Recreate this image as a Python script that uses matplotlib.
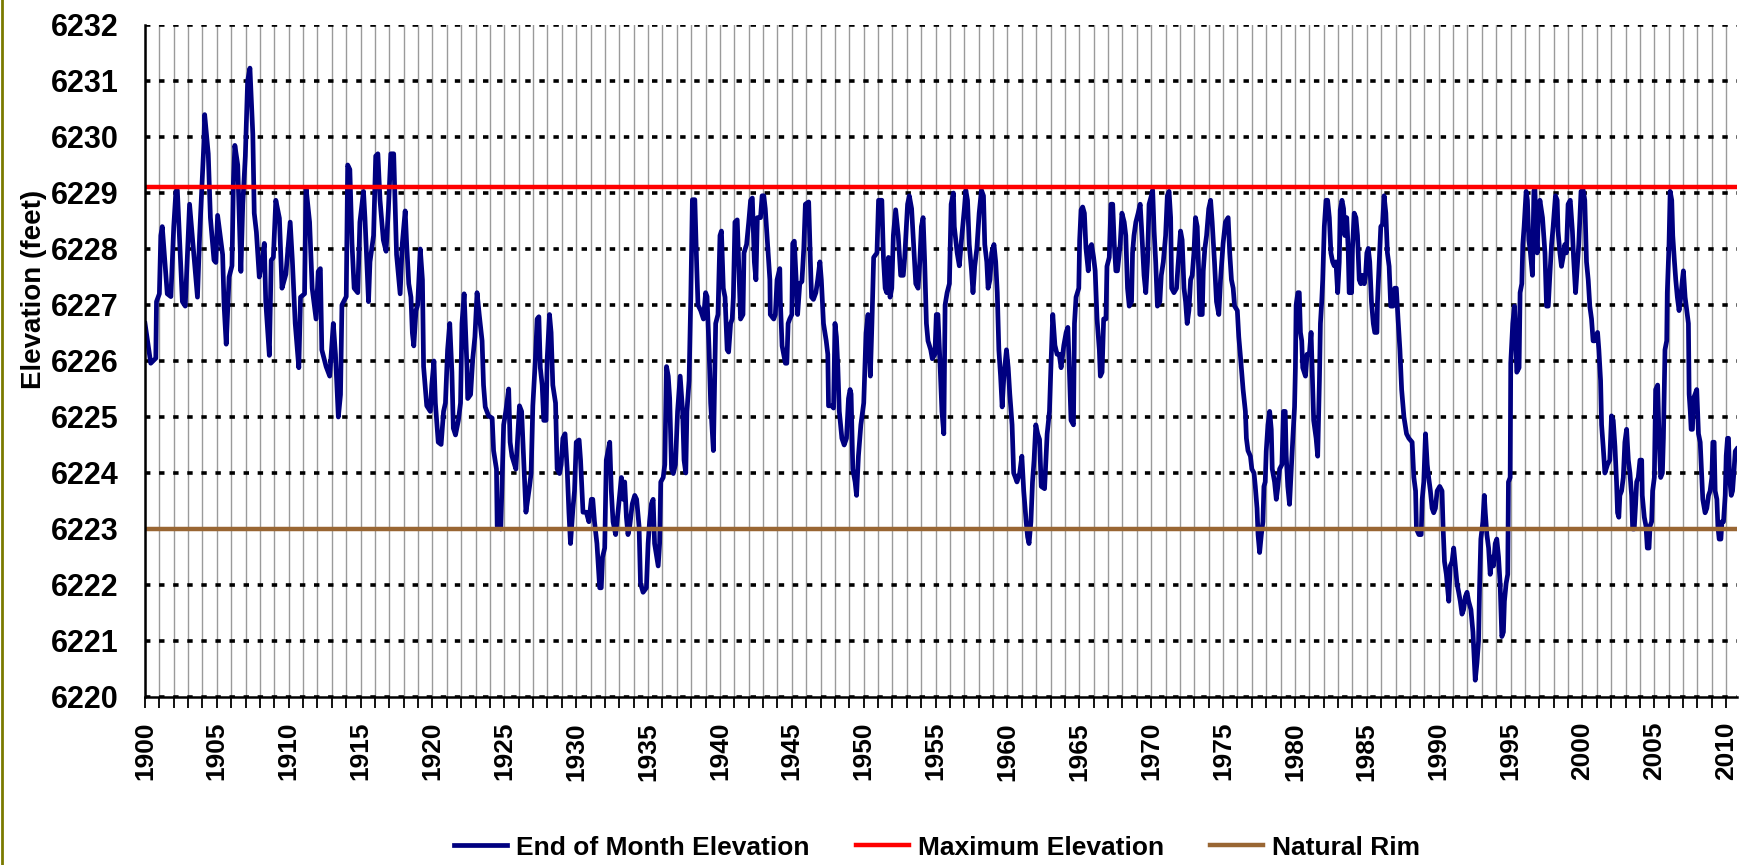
import matplotlib
matplotlib.use("Agg")
import matplotlib.pyplot as plt
import matplotlib.lines as lines
from matplotlib.ticker import MultipleLocator
import numpy as np

plt.rcParams['font.family'] = ['Liberation Sans', 'DejaVu Sans']
plt.rcParams['font.weight'] = 'bold'

# end of month lake elevation (decimal year, feet)
seg_1900 = [
    (1900.00, 6226.67), (1900.40, 6225.96), (1900.75, 6226.05), (1900.80, 6227.06), (1901.00, 6227.20),
    (1901.10, 6228.24), (1901.20, 6228.40), (1901.55, 6227.20), (1901.80, 6227.15), (1902.00, 6228.40),
    (1902.15, 6229.03), (1902.25, 6229.05), (1902.60, 6227.06), (1902.80, 6226.98), (1902.95, 6227.90),
    (1903.10, 6228.80), (1903.40, 6227.90), (1903.65, 6227.14), (1903.80, 6228.24), (1904.10, 6229.90),
    (1904.15, 6230.40), (1904.40, 6229.70), (1904.55, 6228.56), (1904.80, 6227.80), (1904.93, 6227.76),
    (1905.05, 6228.60), (1905.40, 6227.90), (1905.50, 6227.00), (1905.65, 6226.30), (1905.85, 6227.50),
    (1906.05, 6227.70), (1906.15, 6229.20), (1906.25, 6229.85), (1906.45, 6229.50), (1906.67, 6227.60),
    (1906.80, 6228.80), (1906.98, 6229.66), (1907.14, 6231.00), (1907.30, 6231.23), (1907.50, 6230.05),
    (1907.60, 6228.64), (1907.75, 6228.30), (1907.95, 6227.50), (1908.15, 6227.80), (1908.30, 6228.10),
    (1908.40, 6227.06), (1908.65, 6226.10), (1908.78, 6227.80), (1908.93, 6227.85), (1909.10, 6228.87),
    (1909.35, 6228.55), (1909.53, 6227.30), (1909.80, 6227.55), (1910.10, 6228.48), (1910.25, 6227.80),
    (1910.45, 6226.67), (1910.70, 6225.88), (1910.82, 6227.14), (1911.10, 6227.20), (1911.20, 6229.10),
    (1911.45, 6228.48), (1911.63, 6227.30), (1911.90, 6226.75),
]
seg_1912 = [
    (1912.05, 6227.60), (1912.20, 6227.65), (1912.30, 6226.20), (1912.60, 6225.90), (1912.85, 6225.73),
    (1913.10, 6226.67), (1913.25, 6226.12), (1913.45, 6225.00), (1913.60, 6225.40), (1913.70, 6227.00),
    (1914.00, 6227.15), (1914.10, 6229.50), (1914.25, 6229.42), (1914.40, 6228.10), (1914.55, 6227.30),
    (1914.80, 6227.22), (1914.95, 6228.48), (1915.20, 6229.03), (1915.30, 6228.56), (1915.55, 6227.06),
    (1915.65, 6227.77), (1915.90, 6228.24), (1916.05, 6229.66), (1916.20, 6229.70), (1916.35, 6228.87),
    (1916.58, 6228.16), (1916.77, 6227.96), (1916.93, 6228.70), (1917.10, 6229.70), (1917.30, 6229.70),
    (1917.40, 6228.80), (1917.50, 6227.90), (1917.75, 6227.20), (1917.90, 6228.10), (1918.10, 6228.68),
    (1918.20, 6228.10), (1918.35, 6227.38), (1918.50, 6227.14), (1918.60, 6226.50), (1918.70, 6226.27),
    (1918.85, 6226.90), (1918.97, 6227.00), (1919.15, 6228.00), (1919.30, 6227.45), (1919.38, 6225.90),
    (1919.60, 6225.20), (1919.85, 6225.10), (1919.95, 6225.57), (1920.10, 6226.00), (1920.20, 6225.25),
    (1920.40, 6224.55), (1920.60, 6224.51), (1920.77, 6225.10), (1920.90, 6225.25), (1921.05, 6226.20),
    (1921.20, 6226.67), (1921.35, 6225.80), (1921.45, 6224.80), (1921.60, 6224.68), (1921.80, 6224.94),
    (1921.95, 6225.25), (1922.05, 6226.67), (1922.20, 6227.20), (1922.40, 6225.88), (1922.45, 6225.33),
    (1922.65, 6225.40), (1922.80, 6226.04), (1922.95, 6226.43), (1923.10, 6227.22), (1923.25, 6226.83),
    (1923.45, 6226.36), (1923.55, 6225.57), (1923.67, 6225.18), (1923.90, 6225.02), (1924.15, 6224.98),
    (1924.25, 6224.40), (1924.45, 6224.07), (1924.50, 6223.05), (1924.75, 6223.00), (1924.85, 6223.90),
    (1924.95, 6224.86),
]
seg_1925 = [
    (1925.10, 6225.10), (1925.30, 6225.50), (1925.40, 6224.55), (1925.53, 6224.30), (1925.80, 6224.07),
    (1926.05, 6225.20), (1926.20, 6225.10), (1926.40, 6223.90), (1926.50, 6223.30), (1926.75, 6223.76),
    (1926.86, 6224.00), (1926.98, 6225.20), (1927.16, 6226.04), (1927.28, 6226.75), (1927.40, 6226.79),
    (1927.50, 6225.88), (1927.63, 6225.57), (1927.74, 6224.94), (1927.90, 6224.94), (1927.98, 6226.04),
    (1928.14, 6226.83), (1928.25, 6226.51), (1928.37, 6225.57), (1928.56, 6225.25), (1928.67, 6224.07),
    (1928.84, 6223.99), (1928.95, 6224.15), (1929.07, 6224.62), (1929.22, 6224.70), (1929.37, 6224.07),
    (1929.49, 6223.30), (1929.60, 6222.74), (1929.77, 6223.37), (1929.88, 6223.68), (1930.00, 6224.55),
    (1930.20, 6224.59), (1930.30, 6224.23), (1930.47, 6223.30), (1930.70, 6223.30), (1930.88, 6223.13),
    (1931.05, 6223.53), (1931.15, 6223.53), (1931.27, 6223.13), (1931.44, 6222.74), (1931.63, 6221.95),
    (1931.74, 6221.95), (1931.83, 6222.50), (1931.98, 6222.66), (1932.09, 6224.23), (1932.33, 6224.55),
    (1932.44, 6223.68), (1932.56, 6223.13), (1932.74, 6222.90), (1932.90, 6223.29), (1933.14, 6223.92),
    (1933.26, 6223.53), (1933.37, 6223.84), (1933.49, 6223.21), (1933.60, 6222.90), (1933.72, 6223.05),
    (1933.90, 6223.45), (1934.07, 6223.60), (1934.20, 6223.53), (1934.37, 6223.05), (1934.47, 6222.03),
    (1934.65, 6221.87), (1934.88, 6221.95), (1935.00, 6222.74), (1935.10, 6223.13), (1935.23, 6223.45),
    (1935.35, 6223.53), (1935.45, 6222.74), (1935.70, 6222.34), (1935.80, 6222.74), (1935.88, 6223.84),
    (1936.05, 6223.92), (1936.16, 6224.15), (1936.28, 6225.90), (1936.40, 6225.73), (1936.50, 6225.33),
    (1936.63, 6224.07), (1936.75, 6223.99), (1936.90, 6224.15),
]
seg_1937 = [
    (1937.05, 6225.10), (1937.23, 6225.73), (1937.40, 6225.10), (1937.50, 6224.23), (1937.62, 6224.00),
    (1937.70, 6225.10), (1937.85, 6225.65), (1937.97, 6227.15), (1938.08, 6228.88), (1938.25, 6228.88),
    (1938.38, 6227.70), (1938.47, 6227.00), (1938.66, 6226.90), (1938.85, 6226.75), (1939.00, 6227.22),
    (1939.10, 6227.15), (1939.24, 6226.20), (1939.35, 6225.25), (1939.54, 6224.40), (1939.70, 6226.67),
    (1939.86, 6226.83), (1940.00, 6228.24), (1940.10, 6228.32), (1940.23, 6227.30), (1940.35, 6227.14),
    (1940.50, 6226.20), (1940.60, 6226.16), (1940.74, 6226.67), (1940.85, 6226.75), (1940.93, 6227.14),
    (1941.04, 6228.48), (1941.20, 6228.52), (1941.32, 6227.61), (1941.43, 6226.75), (1941.60, 6226.83),
    (1941.67, 6227.93), (1941.85, 6228.08), (1942.00, 6228.48), (1942.13, 6228.87), (1942.25, 6228.91),
    (1942.39, 6227.77), (1942.50, 6227.45), (1942.60, 6228.56), (1942.82, 6228.56), (1942.93, 6228.95),
    (1943.05, 6228.95), (1943.15, 6228.72), (1943.33, 6228.01), (1943.47, 6227.45), (1943.50, 6226.83),
    (1943.74, 6226.75), (1943.85, 6226.83), (1943.97, 6227.45), (1944.16, 6227.65), (1944.20, 6227.06),
    (1944.32, 6226.27), (1944.55, 6225.96), (1944.65, 6225.96), (1944.74, 6226.67), (1944.85, 6226.75),
    (1945.00, 6226.83), (1945.06, 6228.10), (1945.17, 6228.14), (1945.30, 6227.45), (1945.40, 6226.83),
    (1945.55, 6227.38), (1945.70, 6227.42), (1945.83, 6228.01), (1945.94, 6228.80), (1946.17, 6228.84),
    (1946.28, 6227.85), (1946.37, 6227.14), (1946.50, 6227.10), (1946.67, 6227.22), (1946.80, 6227.45),
    (1946.95, 6227.77), (1947.05, 6227.45), (1947.20, 6226.67), (1947.39, 6226.36), (1947.50, 6226.12),
    (1947.55, 6225.20), (1947.80, 6225.20), (1947.90, 6225.16), (1948.00, 6226.67), (1948.10, 6226.43),
    (1948.20, 6225.88), (1948.30, 6225.10), (1948.48, 6224.62), (1948.64, 6224.50), (1948.80, 6224.62),
    (1948.94, 6225.33), (1949.05, 6225.49), (1949.12, 6225.41), (1949.24, 6224.07), (1949.40, 6223.84),
    (1949.50, 6223.60), (1949.63, 6224.30), (1949.80, 6224.86),
]
seg_1950 = [
    (1950.00, 6225.25), (1950.16, 6226.50), (1950.30, 6226.83), (1950.46, 6225.73), (1950.57, 6226.67),
    (1950.69, 6227.85), (1950.92, 6227.93), (1951.03, 6228.87), (1951.26, 6228.87), (1951.37, 6227.85),
    (1951.49, 6227.30), (1951.60, 6227.22), (1951.72, 6227.85), (1951.83, 6227.14), (1951.95, 6227.30),
    (1952.06, 6228.24), (1952.22, 6228.70), (1952.40, 6228.24), (1952.57, 6227.53), (1952.75, 6227.53),
    (1952.85, 6227.85), (1953.05, 6228.80), (1953.17, 6228.95), (1953.33, 6228.72), (1953.50, 6227.93),
    (1953.62, 6227.38), (1953.78, 6227.30), (1953.90, 6227.77), (1954.01, 6228.40), (1954.13, 6228.56),
    (1954.24, 6227.77), (1954.36, 6226.67), (1954.47, 6226.36), (1954.66, 6226.20), (1954.77, 6226.04),
    (1954.95, 6226.12), (1955.05, 6226.83), (1955.16, 6226.83), (1955.28, 6226.12), (1955.44, 6225.10),
    (1955.57, 6224.70), (1955.66, 6227.00), (1955.80, 6227.22), (1955.96, 6227.38), (1956.08, 6228.80),
    (1956.24, 6229.00), (1956.30, 6228.40), (1956.50, 6227.93), (1956.65, 6227.70), (1956.80, 6228.16),
    (1957.00, 6228.72), (1957.10, 6229.05), (1957.22, 6228.87), (1957.34, 6228.08), (1957.50, 6227.61),
    (1957.60, 6227.22), (1957.72, 6227.69), (1957.87, 6228.01), (1958.03, 6228.64), (1958.19, 6229.05),
    (1958.33, 6228.95), (1958.42, 6228.08), (1958.56, 6227.77), (1958.65, 6227.30), (1958.78, 6227.45),
    (1958.90, 6227.93), (1959.06, 6228.08), (1959.18, 6227.77), (1959.29, 6227.22), (1959.40, 6226.20),
    (1959.52, 6225.73), (1959.63, 6225.18), (1959.75, 6225.73), (1959.93, 6226.20), (1960.05, 6225.88),
    (1960.16, 6225.41), (1960.32, 6224.86), (1960.43, 6224.00), (1960.55, 6223.92), (1960.66, 6223.84),
    (1960.85, 6224.00), (1961.00, 6224.30), (1961.13, 6223.68), (1961.30, 6223.13), (1961.40, 6222.86),
    (1961.50, 6222.74), (1961.63, 6223.13), (1961.74, 6223.84), (1961.85, 6224.23), (1961.97, 6224.86),
    (1962.10, 6224.70),
]
seg_1962 = [
    (1962.23, 6224.60), (1962.35, 6223.76), (1962.58, 6223.72), (1962.76, 6224.70), (1962.92, 6225.10),
    (1963.04, 6226.04), (1963.15, 6226.83), (1963.30, 6226.28), (1963.45, 6226.12), (1963.60, 6226.12),
    (1963.73, 6225.88), (1963.92, 6226.28), (1964.08, 6226.51), (1964.20, 6226.60), (1964.30, 6225.88),
    (1964.42, 6224.94), (1964.59, 6224.86), (1964.66, 6226.67), (1964.77, 6227.14), (1964.96, 6227.30),
    (1965.02, 6228.16), (1965.12, 6228.70), (1965.23, 6228.75), (1965.35, 6228.64), (1965.46, 6228.01),
    (1965.62, 6227.61), (1965.70, 6228.01), (1965.85, 6228.08), (1965.99, 6227.85), (1966.10, 6227.61),
    (1966.23, 6226.75), (1966.39, 6226.20), (1966.46, 6225.73), (1966.58, 6225.80), (1966.69, 6226.75),
    (1966.85, 6226.75), (1966.92, 6227.69), (1967.08, 6227.85), (1967.20, 6228.80), (1967.32, 6228.80),
    (1967.43, 6228.08), (1967.54, 6227.61), (1967.65, 6227.61), (1967.84, 6228.08), (1967.96, 6228.64),
    (1968.12, 6228.48), (1968.23, 6228.24), (1968.35, 6227.30), (1968.47, 6226.98), (1968.63, 6227.06),
    (1968.70, 6227.93), (1968.80, 6228.24), (1968.93, 6228.48), (1969.09, 6228.64), (1969.23, 6228.80),
    (1969.32, 6228.40), (1969.50, 6227.53), (1969.62, 6227.22), (1969.74, 6227.77), (1969.85, 6228.80),
    (1970.01, 6228.95), (1970.10, 6229.05), (1970.20, 6228.32), (1970.31, 6227.77), (1970.43, 6226.98),
    (1970.60, 6227.06), (1970.70, 6227.53), (1970.84, 6227.77), (1971.00, 6228.24), (1971.12, 6228.95),
    (1971.24, 6229.03), (1971.35, 6228.56), (1971.42, 6227.30), (1971.58, 6227.22), (1971.76, 6227.30),
    (1971.86, 6227.69), (1972.04, 6228.32), (1972.15, 6228.16), (1972.28, 6227.30), (1972.39, 6227.06),
    (1972.50, 6226.67), (1972.62, 6226.90), (1972.74, 6227.45), (1972.85, 6227.53), (1972.97, 6227.93),
    (1973.08, 6228.56), (1973.20, 6228.40), (1973.30, 6227.61), (1973.38, 6226.83), (1973.55, 6226.83),
    (1973.62, 6227.61), (1973.73, 6228.01), (1973.85, 6228.24), (1974.00, 6228.72), (1974.13, 6228.87),
    (1974.24, 6228.48), (1974.40, 6227.77), (1974.54, 6227.06), (1974.70, 6226.83), (1974.82, 6227.45),
]
seg_1975 = [
    (1975.00, 6228.10), (1975.16, 6228.48), (1975.35, 6228.56), (1975.46, 6227.93), (1975.58, 6227.45),
    (1975.70, 6227.30), (1975.80, 6226.98), (1975.99, 6226.90), (1976.09, 6226.43), (1976.22, 6226.04),
    (1976.39, 6225.49), (1976.55, 6225.10), (1976.62, 6224.62), (1976.73, 6224.40), (1976.90, 6224.30),
    (1977.00, 6224.07), (1977.15, 6224.00), (1977.24, 6223.76), (1977.36, 6223.37), (1977.43, 6222.90),
    (1977.54, 6222.58), (1977.66, 6222.90), (1977.77, 6223.13), (1977.84, 6223.76), (1977.93, 6223.84),
    (1978.00, 6224.39), (1978.12, 6224.86), (1978.24, 6225.10), (1978.35, 6224.78), (1978.42, 6224.07),
    (1978.58, 6223.84), (1978.70, 6223.53), (1978.81, 6223.76), (1978.93, 6224.07), (1979.09, 6224.15),
    (1979.20, 6225.10), (1979.32, 6225.10), (1979.39, 6224.31), (1979.50, 6223.76), (1979.62, 6223.44),
    (1979.73, 6224.00), (1979.85, 6224.62), (1979.97, 6225.18), (1980.03, 6225.88), (1980.08, 6227.00),
    (1980.20, 6227.22), (1980.30, 6227.22), (1980.38, 6226.51), (1980.47, 6226.36), (1980.54, 6225.88),
    (1980.73, 6225.73), (1980.84, 6226.12), (1981.00, 6226.12), (1981.12, 6226.51), (1981.19, 6225.88),
    (1981.30, 6224.94), (1981.47, 6224.62), (1981.58, 6224.30), (1981.70, 6225.65), (1981.77, 6226.67),
    (1981.86, 6227.06), (1981.93, 6227.45), (1982.04, 6228.40), (1982.16, 6228.87), (1982.27, 6228.87),
    (1982.39, 6228.56), (1982.50, 6227.93), (1982.62, 6227.77), (1982.73, 6227.70), (1982.85, 6227.77),
    (1982.97, 6227.22), (1983.08, 6227.77), (1983.15, 6228.70), (1983.27, 6228.87), (1983.38, 6228.72),
    (1983.47, 6228.24), (1983.60, 6228.56), (1983.70, 6228.01), (1983.77, 6227.22), (1983.94, 6227.22),
    (1984.00, 6228.01), (1984.12, 6228.64), (1984.24, 6228.56), (1984.35, 6228.24), (1984.47, 6227.45),
    (1984.58, 6227.38), (1984.70, 6227.53), (1984.82, 6227.38), (1984.91, 6227.53), (1985.00, 6227.93),
    (1985.10, 6228.01), (1985.20, 6227.77), (1985.32, 6227.06), (1985.45, 6226.67), (1985.55, 6226.51),
    (1985.70, 6226.51), (1985.74, 6227.06), (1985.86, 6227.77), (1985.97, 6228.40), (1986.09, 6228.44),
    (1986.20, 6228.95), (1986.32, 6228.64), (1986.43, 6227.93), (1986.55, 6227.69), (1986.66, 6226.98),
    (1986.82, 6226.98), (1986.94, 6227.30), (1987.05, 6227.30), (1987.17, 6226.75), (1987.30, 6226.20),
    (1987.42, 6225.49),
]
seg_1987 = [
    (1987.58, 6225.00), (1987.76, 6224.70), (1987.92, 6224.62), (1988.15, 6224.55), (1988.27, 6223.92),
    (1988.39, 6223.68), (1988.45, 6223.00), (1988.62, 6222.90), (1988.78, 6222.90), (1988.85, 6223.53),
    (1988.96, 6223.84), (1989.08, 6224.70), (1989.20, 6224.15), (1989.30, 6223.92), (1989.42, 6223.68),
    (1989.54, 6223.37), (1989.65, 6223.29), (1989.77, 6223.37), (1989.89, 6223.68), (1990.07, 6223.76),
    (1990.23, 6223.68), (1990.30, 6223.05), (1990.40, 6222.42), (1990.53, 6222.19), (1990.70, 6221.71),
    (1990.80, 6222.34), (1990.93, 6222.42), (1991.04, 6222.66), (1991.16, 6222.34), (1991.27, 6222.03),
    (1991.39, 6221.87), (1991.50, 6221.71), (1991.62, 6221.48), (1991.73, 6221.56), (1991.85, 6221.79),
    (1991.97, 6221.87), (1992.08, 6221.71), (1992.24, 6221.56), (1992.38, 6221.16), (1992.47, 6220.69),
    (1992.54, 6220.30), (1992.66, 6220.61), (1992.77, 6221.00), (1992.84, 6221.95), (1992.93, 6222.82),
    (1993.07, 6223.13), (1993.17, 6223.60), (1993.24, 6223.29), (1993.35, 6222.90), (1993.47, 6222.66),
    (1993.58, 6222.19), (1993.70, 6222.50), (1993.81, 6222.34), (1993.93, 6222.74), (1994.04, 6222.82),
    (1994.16, 6222.50), (1994.27, 6222.03), (1994.39, 6221.08), (1994.50, 6221.16), (1994.57, 6221.71),
    (1994.69, 6222.03), (1994.80, 6222.19), (1994.85, 6223.84), (1994.97, 6223.92), (1995.01, 6225.96),
    (1995.15, 6226.67), (1995.27, 6226.98), (1995.36, 6226.43), (1995.43, 6225.80), (1995.59, 6225.88),
    (1995.66, 6227.22), (1995.78, 6227.38), (1995.85, 6228.08), (1995.94, 6228.40), (1996.08, 6229.03),
    (1996.17, 6228.87), (1996.27, 6228.16), (1996.38, 6227.93), (1996.52, 6227.53), (1996.62, 6229.03),
    (1996.69, 6229.10), (1996.76, 6228.40), (1996.85, 6227.93), (1996.92, 6228.56), (1997.04, 6228.87),
    (1997.22, 6228.56), (1997.39, 6227.93), (1997.50, 6226.98), (1997.62, 6226.98), (1997.73, 6227.53),
    (1997.85, 6228.08), (1997.96, 6228.40), (1998.12, 6228.95), (1998.24, 6228.87), (1998.30, 6228.32),
    (1998.43, 6227.93), (1998.54, 6227.69), (1998.65, 6227.85), (1998.77, 6228.08), (1998.88, 6227.93),
    (1999.00, 6228.80), (1999.15, 6228.87), (1999.30, 6228.32), (1999.38, 6227.85), (1999.52, 6227.22),
    (1999.60, 6227.53), (1999.74, 6228.08), (1999.90, 6229.03),
]
seg_2000 = [
    (2000.05, 6229.05), (2000.16, 6228.87), (2000.28, 6227.77), (2000.40, 6227.45), (2000.51, 6226.98),
    (2000.63, 6226.75), (2000.74, 6226.36), (2000.86, 6226.36), (2001.05, 6226.51), (2001.14, 6226.20),
    (2001.26, 6225.65), (2001.33, 6224.86), (2001.44, 6224.47), (2001.56, 6224.00), (2001.74, 6224.15),
    (2001.90, 6224.23), (2002.02, 6225.02), (2002.14, 6224.94), (2002.26, 6224.47), (2002.37, 6223.84),
    (2002.44, 6223.29), (2002.53, 6223.21), (2002.60, 6223.60), (2002.72, 6223.68), (2002.84, 6223.92),
    (2002.95, 6224.55), (2003.07, 6224.78), (2003.19, 6224.23), (2003.30, 6224.00), (2003.42, 6223.60),
    (2003.49, 6223.00), (2003.60, 6223.00), (2003.70, 6223.45), (2003.77, 6223.84), (2003.88, 6223.92),
    (2004.00, 6224.23), (2004.12, 6224.23), (2004.16, 6223.60), (2004.30, 6223.21), (2004.42, 6223.05),
    (2004.51, 6222.66), (2004.63, 6222.66), (2004.70, 6223.05), (2004.81, 6223.13), (2004.88, 6223.68),
    (2005.00, 6223.92), (2005.09, 6225.49), (2005.23, 6225.57), (2005.33, 6224.62), (2005.44, 6223.92),
    (2005.56, 6224.00), (2005.63, 6224.62), (2005.74, 6226.20), (2005.86, 6226.36), (2005.90, 6227.22),
    (2006.02, 6228.08), (2006.10, 6229.03), (2006.21, 6228.87), (2006.28, 6228.24), (2006.40, 6227.77),
    (2006.49, 6227.45), (2006.60, 6227.14), (2006.72, 6226.90), (2006.84, 6227.14), (2006.95, 6227.45),
    (2007.02, 6227.61), (2007.14, 6227.14), (2007.26, 6226.90), (2007.37, 6226.67), (2007.42, 6225.41),
    (2007.50, 6225.10), (2007.56, 6224.78), (2007.65, 6224.78), (2007.72, 6225.33), (2007.84, 6225.41),
    (2007.95, 6225.49), (2008.07, 6224.70), (2008.19, 6224.55), (2008.30, 6223.92), (2008.37, 6223.53),
    (2008.53, 6223.29), (2008.65, 6223.37), (2008.77, 6223.60), (2008.88, 6223.68), (2009.00, 6223.92),
    (2009.07, 6224.55), (2009.16, 6224.55), (2009.23, 6223.68), (2009.35, 6223.53), (2009.42, 6223.05),
    (2009.51, 6222.82), (2009.63, 6222.82), (2009.70, 6223.13), (2009.81, 6223.13), (2009.93, 6223.60),
    (2010.00, 6224.31), (2010.09, 6224.62), (2010.16, 6224.62), (2010.23, 6223.92), (2010.35, 6223.60),
    (2010.44, 6223.68), (2010.53, 6224.00), (2010.63, 6224.39), (2010.74, 6224.43),
]

max_elevation = 6229.1
natural_rim = 6223.0
y_ticks = list(range(6220, 6233))
x_label_years = list(range(1900, 2011, 5))
series_names = ["End of Month Elevation", "Maximum Elevation", "Natural Rim"]
series_colors = ["#000080", "#ff0000", "#996633"]

record = np.array(seg_1900 + seg_1912 + seg_1925 + seg_1937 + seg_1950 +
                  seg_1962 + seg_1975 + seg_1987 + seg_2000)
t, z = record[:, 0], record[:, 1]

W, H = 1752, 865
fig = plt.figure(figsize=(W / 100, H / 100), dpi=100)
fig.patch.set_facecolor("white")
x0, x1, y0, y1 = 145, 1737, 25, 697
ax = fig.add_axes([x0 / W, 1 - y1 / H, (x1 - x0) / W, (y1 - y0) / H])

ax.plot(t, z, color=series_colors[0], lw=3.4, zorder=3, label=series_names[0],
        solid_joinstyle="round")
ax.axhline(max_elevation, color=series_colors[1], lw=3.2, zorder=4, label=series_names[1])
ax.axhline(natural_rim, color=series_colors[2], lw=3.2, zorder=4, label=series_names[2])

ax.set_xlim(1900, 2010.75)
ax.set_ylim(6220, 6232)
ax.set_yticks(y_ticks)
ax.set_xticks(x_label_years)
ax.xaxis.set_minor_locator(MultipleLocator(1))

ax.set_axisbelow(True)
ax.grid(axis="x", which="both", color="#9a9a9a", lw=1.0)
ax.grid(axis="y", which="major", color="black", lw=2.6, linestyle=(0, (1.5, 2.4)))

for s in ("top", "right"):
    ax.spines[s].set_visible(False)
for s in ("left", "bottom"):
    ax.spines[s].set_linewidth(1.8)
    ax.spines[s].set_zorder(5)

ax.tick_params(axis="y", length=0, pad=19, labelsize=22)
ax.tick_params(axis="x", which="major", length=8, width=1.3, pad=10,
               labelsize=19, labelrotation=90)
ax.tick_params(axis="x", which="minor", length=8, width=1.3)

ax.set_ylabel("Elevation (feet)", fontsize=20, fontweight="bold")
ax.yaxis.set_label_coords(-0.0616, 0.606)

fig.legend(loc="center", bbox_to_anchor=(0.535, 0.02), ncol=3, frameon=False,
           prop={"weight": "bold", "size": 19}, handlelength=2.0,
           handletextpad=0.35, columnspacing=1.75)

fig.add_artist(lines.Line2D([0.001, 0.001], [0, 1], transform=fig.transFigure,
                            color="#7a7a00", lw=2))

fig.savefig("out.png", dpi=100, facecolor="white")
